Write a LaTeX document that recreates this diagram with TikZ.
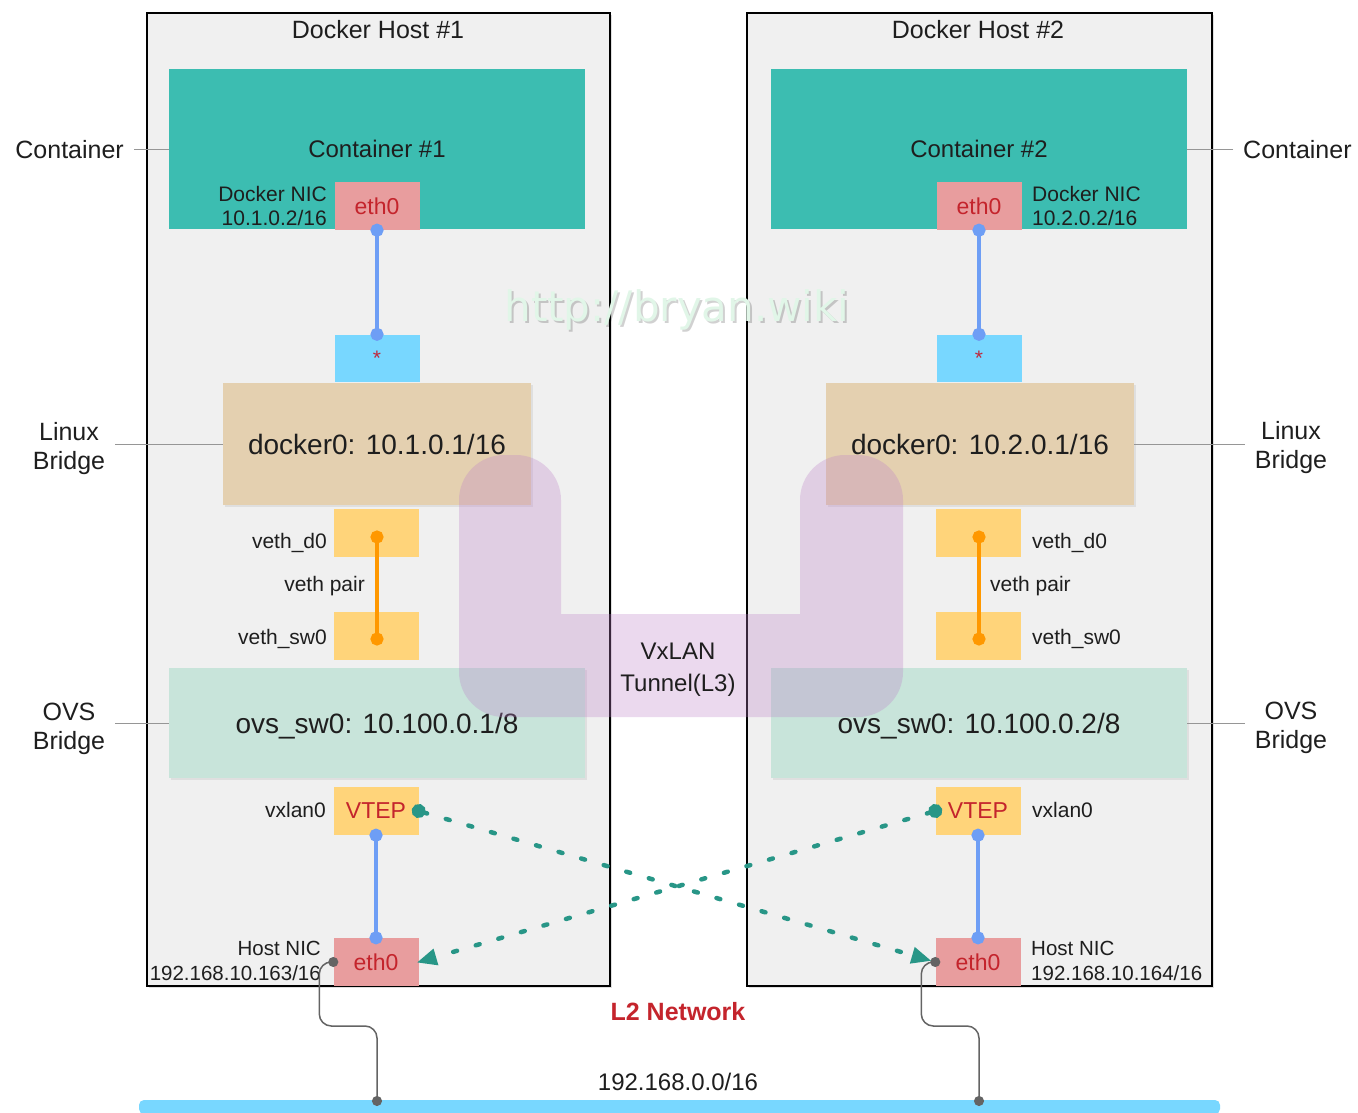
\documentclass[tikz,border=0pt]{standalone}
\usepackage{fontspec}
\setmainfont{Liberation Sans}
\newfontfamily\wmfont{DejaVu Sans}
\usepackage{tikz}
\usetikzlibrary{arrows.meta,shadows,calc}

\definecolor{hostgray}{RGB}{240,240,240}
\definecolor{contteal}{RGB}{60,189,177}
\definecolor{nicpink}{RGB}{232,157,158}
\definecolor{nicred}{RGB}{196,36,44}
\definecolor{skyblue}{RGB}{120,215,255}
\definecolor{starred}{RGB}{190,40,60}
\definecolor{bridgetan}{RGB}{228,208,176}
\definecolor{portyellow}{RGB}{255,212,122}
\definecolor{ovsgreen}{RGB}{200,228,218}
\definecolor{linkblue}{RGB}{110,158,245}
\definecolor{vethorange}{RGB}{255,152,0}
\definecolor{tunnelpurple}{RGB}{190,130,200}
\definecolor{arrowteal}{RGB}{40,150,135}
\definecolor{wiregray}{RGB}{100,100,100}
\definecolor{txtdark}{RGB}{30,30,30}
\definecolor{leadergray}{RGB}{150,150,150}
\definecolor{wmgreen}{RGB}{225,246,232}

\tikzset{>=Stealth}
\tikzset{
    host/.style={draw=black, line width=1.8, fill=hostgray, inner sep=0,
        drop shadow={opacity=0.25, shadow xshift=2pt, shadow yshift=-2pt}},
    title/.style={font=\fontsize{25}{30}\selectfont, text=txtdark},
    sidelabel/.style={font=\fontsize{25}{29}\selectfont, text=txtdark, align=center, inner sep=10},
    leader/.style={draw=leadergray, line width=1},
    contbox/.style={fill=contteal, minimum width=416, minimum height=160, inner sep=0,
        font=\fontsize{24}{28}\selectfont, text=txtdark},
    nicbox/.style={fill=nicpink, minimum width=85, minimum height=48, inner sep=0,
        font=\fontsize{23}{28}\selectfont, text=nicred},
    portbox/.style={fill=portyellow, minimum width=85, minimum height=48, inner sep=0,
        font=\fontsize{23}{28}\selectfont, text=nicred},
    starbox/.style={fill=skyblue, minimum width=85, minimum height=47, inner sep=0,
        font=\fontsize{21}{24}\selectfont, text=starred},
    bridgebox/.style={fill=bridgetan, minimum width=308, minimum height=122, inner sep=0,
        font=\fontsize{28}{32}\selectfont, text=txtdark,
        drop shadow={opacity=0.15, shadow xshift=2pt, shadow yshift=-2pt}},
    ovsbox/.style={fill=ovsgreen, minimum width=416, minimum height=110, inner sep=0,
        font=\fontsize{28}{32}\selectfont, text=txtdark, text height=20pt, text depth=0pt,
        drop shadow={opacity=0.15, shadow xshift=2pt, shadow yshift=-2pt}},
    small/.style={font=\fontsize{21}{24}\selectfont, text=txtdark, inner sep=0},
    link/.style={draw=linkblue, line width=4.5, {Circle[length=13pt]}-{Circle[length=13pt]},
        shorten <=-6.5pt, shorten >=-6.5pt},
    vethlink/.style={draw=vethorange, line width=4, {Circle[length=13pt]}-{Circle[length=13pt]},
        shorten <=-6.5pt, shorten >=-6.5pt},
    wire/.style={draw=wiregray, line width=1.5, rounded corners=12,
        {Circle[length=10pt]}-{Circle[length=10pt]}, shorten <=-5pt, shorten >=-5pt},
    tunnelarrow/.style={draw=arrowteal, line width=4.5, line cap=round, dash pattern=on 4pt off 19.5pt,
        {Circle[length=14pt]}-{Triangle[length=20pt, width=16pt]}, shorten <=-7pt},
}

\begin{document}
\begin{tikzpicture}[x=1pt, y=-1pt]
    \useasboundingbox (0,0) rectangle (1358,1113);

    % the two hosts
    \node[host, minimum width=463, minimum height=973] (host1) at (378.5,499.5) {};
    \node[host, minimum width=465, minimum height=973] (host2) at (979.5,499.5) {};
    \node[title] (title1) at (378,30) {Docker Host \#1};
    \node[title] (title2) at (978,30) {Docker Host \#2};

    % host 1
    \node[contbox] (cont1) at (377,149) {\raisebox{-1pt}{Container \#1}};
    \node[nicbox] (nic1) at (377,206) {eth0};
    \node[small, anchor=east, align=right] (nicl1) at (327,206) {Docker NIC\\10.1.0.2/16};
    \node[starbox] (star1) at (377,358) {*};
    \node[bridgebox] (br1) at (377,444) {docker0: 10.1.0.1/16};
    \node[portbox] (vd1) at (376,533) {};
    \node[portbox] (vs1) at (376,636) {};
    \node[small, anchor=east] (vdl1) at (327,543) {veth\_d0};
    \node[small, anchor=east] (vpl1) at (365,586) {veth pair};
    \node[small, anchor=east] (vsl1) at (327,639) {veth\_sw0};
    \node[ovsbox] (ovs1) at (377,723) {ovs\_sw0: 10.100.0.1/8};
    \node[portbox] (vtep1) at (376,811) {VTEP};
    \node[small, anchor=east] (vxl1) at (326,810) {vxlan0};
    \node[nicbox] (eth1) at (376,962) {eth0};
    \node[small, anchor=east, align=right, font=\fontsize{20.5}{25}\selectfont] (hnl1) at (321,961) {Host NIC\\192.168.10.163/16};

    % host 2
    \node[contbox] (cont2) at (979,149) {\raisebox{-1pt}{Container \#2}};
    \node[nicbox] (nic2) at (979,206) {eth0};
    \node[small, anchor=west, align=left] (nicl2) at (1032,206) {Docker NIC\\10.2.0.2/16};
    \node[starbox] (star2) at (979,358) {*};
    \node[bridgebox] (br2) at (980,444) {docker0: 10.2.0.1/16};
    \node[portbox] (vd2) at (978,533) {};
    \node[portbox] (vs2) at (978,636) {};
    \node[small, anchor=west] (vdl2) at (1032,543) {veth\_d0};
    \node[small, anchor=west] (vpl2) at (990,586) {veth pair};
    \node[small, anchor=west] (vsl2) at (1032,639) {veth\_sw0};
    \node[ovsbox] (ovs2) at (979,723) {ovs\_sw0: 10.100.0.2/8};
    \node[portbox] (vtep2) at (978,811) {VTEP};
    \node[small, anchor=west] (vxl2) at (1032,810) {vxlan0};
    \node[nicbox] (eth2) at (978,962) {eth0};
    \node[small, anchor=west, align=left, font=\fontsize{20.5}{25}\selectfont] (hnl2) at (1031,961) {Host NIC\\192.168.10.164/16};

    % links inside the hosts
    \coordinate (vdc1) at ($(vd1.center)+(1,4)$);
    \coordinate (vsc1) at ($(vs1.center)+(1,3)$);
    \coordinate (vdc2) at ($(vd2.center)+(1,4)$);
    \coordinate (vsc2) at ($(vs2.center)+(1,3)$);
    \draw[link] (nic1.south) -- (star1.north);
    \draw[link] (vtep1.south) -- (eth1.north);
    \draw[vethlink] (vdc1) -- (vsc1);
    \draw[link] (nic2.south) -- (star2.north);
    \draw[link] (vtep2.south) -- (eth2.north);
    \draw[vethlink] (vdc2) -- (vsc2);

    % side labels
    \node[sidelabel, anchor=east] (lblc1) at (134,150) {Container};
    \node[sidelabel] (lblb1) at (69,449) {Linux\\Bridge};
    \node[sidelabel] (lblo1) at (69,729) {OVS\\Bridge};
    \node[sidelabel, anchor=west] (lblc2) at (1233,150) {Container};
    \node[sidelabel] (lblb2) at (1291,448) {Linux\\Bridge};
    \node[sidelabel] (lblo2) at (1291,728) {OVS\\Bridge};
    \draw[leader] (lblc1.east) -- (cont1.west |- lblc1.east);
    \draw[leader] (lblb1.east |- br1.west) -- (br1.west);
    \draw[leader] (lblo1.east |- ovs1.west) -- (ovs1.west);
    \draw[leader] (lblc2.west) -- (cont2.east |- lblc2.west);
    \draw[leader] (lblb2.west |- br2.east) -- (br2.east);
    \draw[leader] (lblo2.west |- ovs2.east) -- (ovs2.east);

    % vxlan tunnel
    \fill[tunnelpurple, opacity=0.3] (459,500) arc(180:270:45) -- (516,455) arc(270:360:45)
        -- (561,614) -- (800,614) -- (800,500) arc(180:270:45) -- (858,455) arc(270:360:45)
        -- (903,672) arc(0:90:45) -- (504,717) arc(90:180:45) -- cycle;
    \node[font=\fontsize{24}{32}\selectfont, text=txtdark, align=center] (vxlan) at (678,670) {VxLAN\\Tunnel(L3)};

    % L2 network
    \node[fill=skyblue, rounded corners=5, minimum width=1081, minimum height=14, inner sep=0] (lan) at (679.5,1107) {};
    \coordinate (lan1) at (377,1101);
    \coordinate (lan2) at (979,1101);
    \node[font=\fontsize{24}{28}\selectfont, text=txtdark] (lannet) at (678,1082) {192.168.0.0/16};
    \node[font=\bfseries\fontsize{25}{30}\selectfont, text=nicred] (l2) at (678,1012) {L2 Network};

    \draw[wire] (eth1.west) -- ++(-14,0) -- ++(0,64) -| (lan1);
    \draw[wire] (eth2.west) -- ++(-14,0) -- ++(0,64) -| (lan2);

    % vtep to vtep
    \draw[tunnelarrow, shorten >=4pt] (vtep1.east) -- (eth2.west);
    \draw[tunnelarrow, shorten >=-2pt] (vtep2.west) -- (eth1.east);

    % watermark
    \node[font=\wmfont\fontsize{42}{48}\selectfont, text=black, opacity=0.18] (wmshadow) at (679,312) {http://bryan.wiki};
    \node[font=\wmfont\fontsize{42}{48}\selectfont, text=wmgreen] (wm) at (677,310) {http://bryan.wiki};

\end{tikzpicture}
\end{document}
